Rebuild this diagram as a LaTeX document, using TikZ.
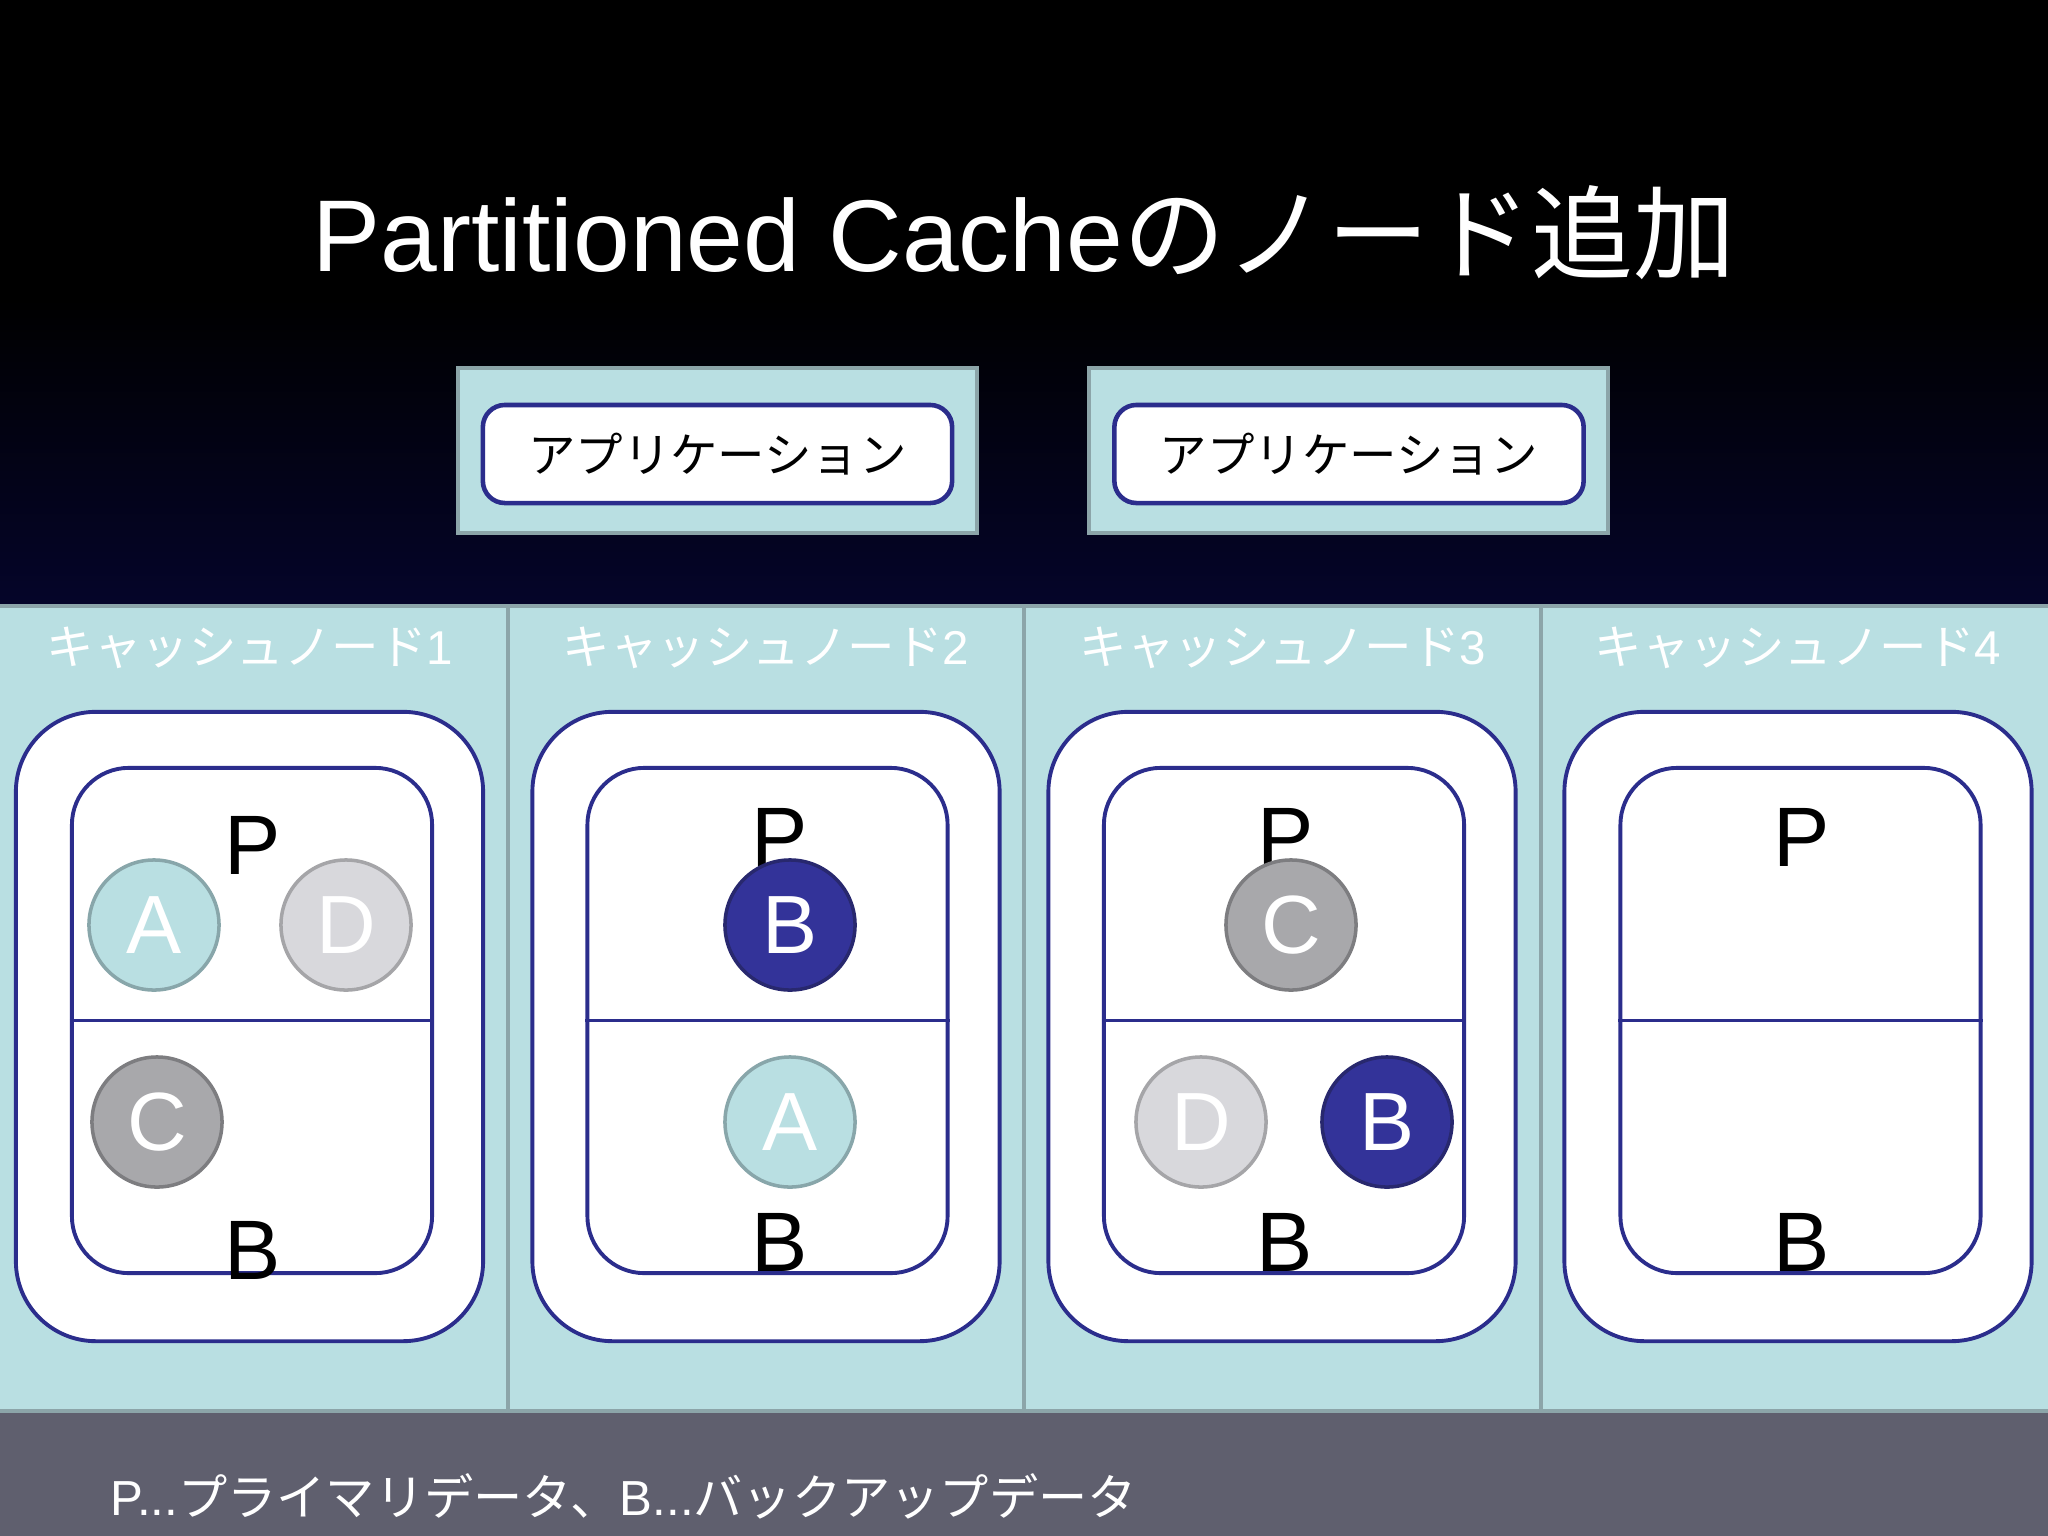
\documentclass[tikz,border=0pt]{standalone}
\usepackage{fontspec}
\setmainfont{Liberation Sans}
\newfontfamily\jp{Noto Sans CJK JP}
\usepackage{xcolor}
\usepackage{tikz}
\usetikzlibrary{positioning}

\definecolor{navyline}{RGB}{43,45,140}
\definecolor{paleblue}{RGB}{185,223,226}
\definecolor{panelgray}{RGB}{140,165,169}
\definecolor{barcolor}{RGB}{95,95,110}
\definecolor{skynavy}{RGB}{5,5,42}
\definecolor{dataAedge}{RGB}{136,166,170}
\definecolor{dataDfill}{RGB}{216,216,220}
\definecolor{dataDedge}{RGB}{165,165,168}
\definecolor{dataCfill}{RGB}{168,168,171}
\definecolor{dataCedge}{RGB}{125,125,128}
\definecolor{dataBfill}{RGB}{51,51,153}
\definecolor{dataBedge}{RGB}{40,40,110}

\begin{document}
\begin{tikzpicture}[x = 0.01cm, y = -0.01cm,
  cachebox/.style = {draw = navyline, line width = 1.1pt, fill = white,
    rounded corners = 0.8cm, minimum width = 4.67cm, minimum height = 6.29cm, inner sep = 0},
  partbox/.style = {draw = navyline, line width = 1.1pt, fill = white,
    rounded corners = 0.57cm, minimum width = 3.6cm, minimum height = 5.05cm, inner sep = 0},
  appframe/.style = {draw = panelgray, line width = 1.2pt, fill = paleblue,
    minimum width = 5.19cm, minimum height = 1.65cm, inner sep = 0},
  appbox/.style = {draw = navyline, line width = 1.3pt, fill = white, rounded corners = 0.22cm,
    minimum width = 4.69cm, minimum height = 0.98cm, inner sep = 0,
    font = \jp\fontsize{13.5}{14}\selectfont},
  headlabel/.style = {inner sep = 0, text = white, font = \fontsize{13.5}{14}\selectfont},
  pblabel/.style = {inner sep = 0, font = \fontsize{24}{24}\selectfont},
  datum/.style = {circle, minimum size = 1.3cm, line width = 1pt, inner sep = 0,
    text = white, font = \fontsize{23.5}{24}\selectfont},
  dataA/.style = {datum, fill = paleblue, draw = dataAedge},
  dataB/.style = {datum, fill = dataBfill, draw = dataBedge},
  dataC/.style = {datum, fill = dataCfill, draw = dataCedge},
  dataD/.style = {datum, fill = dataDfill, draw = dataDedge}
]
  \useasboundingbox (0, 0) rectangle (2048, 1536);

  % background
  \fill[black] (0, 0) rectangle (2048, 300);
  \shade[top color = black, bottom color = skynavy] (0, 299) rectangle (2048, 606);
  \fill[paleblue] (0, 605) rectangle (2048, 1412);
  \fill[barcolor] (0, 1412) rectangle (2048, 1536);
  \draw[panelgray, line width = 1.2pt] (0, 606) -- (2048, 606);
  \draw[panelgray, line width = 1.2pt] (0, 1411) -- (2048, 1411);
  \draw[panelgray, line width = 1.2pt] (508, 606) -- (508, 1411);
  \draw[panelgray, line width = 1.2pt] (1024, 606) -- (1024, 1411);
  \draw[panelgray, line width = 1.2pt] (1541, 606) -- (1541, 1411);

  \node (title) at (1024, 233) [inner sep = 0, text = white, font = \fontsize{29}{30}\selectfont] {
    Partitioned Cache{\jp のノード追加}
  };

  % applications
  \node (F1) [appframe] at (717.5, 450.5) {};
  \node (F2) [appframe] at (1348.5, 450.5) {};
  \node (app1) [appbox] at (717.5, 454) {アプリケーション};
  \node (app2) [appbox] at (1349, 454) {アプリケーション};

  % cache node headers
  \node (H1) [headlabel] at (250, 648) {{\jp キャッシュノード}1};
  \node (H2) [headlabel] at (766, 648) {{\jp キャッシュノード}2};
  \node (H3) [headlabel] at (1283, 648) {{\jp キャッシュノード}3};
  \node (H4) [headlabel] at (1798, 648) {{\jp キャッシュノード}4};

  % cache node 1
  \node (N1) [cachebox] at (249.5, 1026.5) {};
  \node (S1) [partbox] at (252, 1020.5) {};
  \draw[navyline, line width = 0.9pt] (S1.west) -- (S1.east);
  \node (P1) [pblabel] at (253, 845) {P};
  \node (B1) [pblabel] at (253, 1250) {B};
  \node (A1) [dataA] at (154, 925) {A};
  \node (D1) [dataD] at (346, 925) {D};
  \node (C1) [dataC] at (157, 1122) {C};

  % cache node 2
  \node (N2) [cachebox] at (766, 1026.5) {};
  \node (S2) [partbox] at (767.5, 1020.5) {};
  \draw[navyline, line width = 0.9pt] (S2.west) -- (S2.east);
  \node (P2) [pblabel] at (780, 837) {P};
  \node (B2) [pblabel] at (780, 1242) {B};
  \node (Bp2) [dataB] at (790, 925) {B};
  \node (A2) [dataA] at (790, 1122) {A};

  % cache node 3
  \node (N3) [cachebox] at (1282, 1026.5) {};
  \node (S3) [partbox] at (1284, 1020.5) {};
  \draw[navyline, line width = 0.9pt] (S3.west) -- (S3.east);
  \node (P3) [pblabel] at (1286, 837) {P};
  \node (B3) [pblabel] at (1285, 1242) {B};
  \node (C3) [dataC] at (1291, 925) {C};
  \node (D3) [dataD] at (1201, 1122) {D};
  \node (Bb3) [dataB] at (1387, 1122) {B};

  % cache node 4 (added)
  \node (N4) [cachebox] at (1798, 1026.5) {};
  \node (S4) [partbox] at (1800.5, 1020.5) {};
  \draw[navyline, line width = 0.9pt] (S4.west) -- (S4.east);
  \node (P4) [pblabel] at (1802, 837) {P};
  \node (B4) [pblabel] at (1802, 1242) {B};

  \node (legend) [anchor = west, inner sep = 0, text = white, font = \fontsize{14}{15}\selectfont] at (110, 1496) {
    P...{\jp プライマリデータ、}B...{\jp バックアップデータ}
  };
\end{tikzpicture}
\end{document}
